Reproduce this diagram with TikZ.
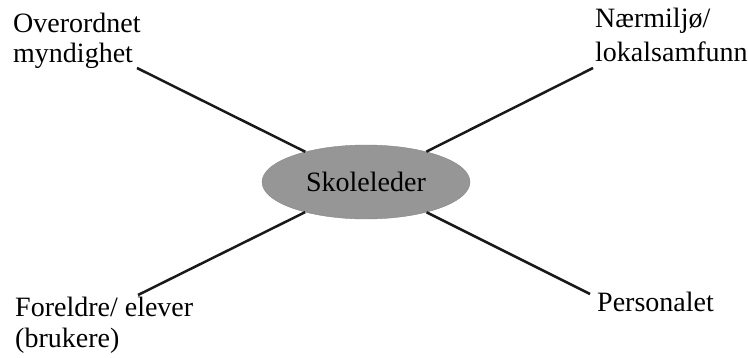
\documentclass[tikz,border=0pt]{standalone}
\usepackage{fontspec}
\setmainfont{Liberation Serif}
\usetikzlibrary{shapes.geometric}
\definecolor{hubgray}{RGB}{150,150,150}
\definecolor{spoke}{RGB}{25,25,25}
\begin{document}
\begin{tikzpicture}[x=1pt,y=-1pt,
  lbl/.style={inner sep=0pt,align=left,anchor=base west,
    font=\fontsize{28}{#1}\selectfont},
  lbl/.default=32,
  hub/.style={ellipse,fill=hubgray,draw=hubgray!90!black,inner sep=0pt,
    minimum width=208pt,minimum height=74pt,
    font=\fontsize{28}{32}\selectfont},
  link/.style={draw=spoke,line width=2.5pt}]
\useasboundingbox (0,0) rectangle (748,358);

% central role
\node[hub] (sk) at (366,182) {Skoleleder};

% surrounding stakeholders (anchored at the baseline of the last line)
\node[lbl=30] (ov) at (13,63) {Overordnet\\myndighet};
\node[lbl=34] (nm) at (595,62) {Nærmiljø/\\lokalsamfunn};
\node[lbl=31] (fe) at (15,348) {Foreldre/ elever\\(brukere)};
\node[lbl] (pe) at (597,312) {Personalet};

% spoke ends next to each label
\coordinate (ovE) at (137,68);
\coordinate (nmE) at (593,68);
\coordinate (feE) at (138,295);
\coordinate (peE) at (590,294);

\draw[link] (ovE) -- (sk);
\draw[link] (nmE) -- (sk);
\draw[link] (feE) -- (sk);
\draw[link] (peE) -- (sk);
\end{tikzpicture}
\end{document}
